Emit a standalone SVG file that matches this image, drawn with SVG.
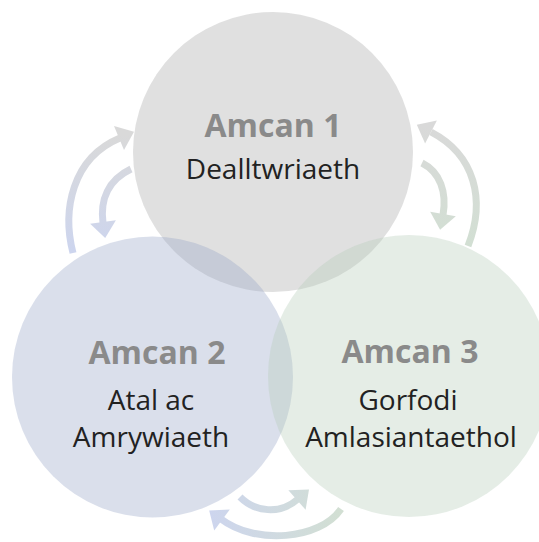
<svg xmlns="http://www.w3.org/2000/svg" width="539" height="542" viewBox="0 0 539 542">
  <style>
    .title { font-family: "Open Sans", "Noto Sans", "Liberation Sans", sans-serif; font-weight: bold; font-size: 32px; fill: #8a8a8a; text-anchor: middle; }
    .body { font-family: "Open Sans", "Noto Sans", "Liberation Sans", sans-serif; font-size: 28px; fill: #222222; text-anchor: middle; }
    .circ { fill-opacity: 0.35; }
    .shaft { fill: none; stroke-width: 7; }
  </style>
  <defs>
    <linearGradient id="gLeft" gradientUnits="userSpaceOnUse" x1="0" y1="135" x2="0" y2="250">
      <stop offset="0" stop-color="#d9d9d9"/>
      <stop offset="1" stop-color="#cdd5ee"/>
    </linearGradient>
    <linearGradient id="gRight" gradientUnits="userSpaceOnUse" x1="0" y1="125" x2="0" y2="245">
      <stop offset="0" stop-color="#d9d9d9"/>
      <stop offset="1" stop-color="#d2dfd3"/>
    </linearGradient>
    <linearGradient id="gBottom" gradientUnits="userSpaceOnUse" x1="210" y1="0" x2="340" y2="0">
      <stop offset="0" stop-color="#cdd5ee"/>
      <stop offset="1" stop-color="#d2dfd3"/>
    </linearGradient>
  </defs>

  <g id="node1">
    <circle class="circ" cx="273" cy="152" r="140" fill="#a6a6a6"/>
    <text class="title" x="273" y="137">Amcan 1</text>
    <text class="body" x="273" y="179">Dealltwriaeth</text>
  </g>
  <g id="node2">
    <circle class="circ" cx="152.5" cy="377" r="140.5" fill="#95a4c6"/>
    <text class="title" x="157" y="364">Amcan 2</text>
    <text class="body" x="151" y="410">Atal ac</text>
    <text class="body" x="151" y="447">Amrywiaeth</text>
  </g>
  <g id="node3">
    <circle class="circ" cx="409" cy="376" r="141" fill="#b5ccb8"/>
    <text class="title" x="410" y="363">Amcan 3</text>
    <text class="body" x="408" y="410">Gorfodi</text>
    <text class="body" x="411" y="447">Amlasiantaethol</text>
  </g>

  <g id="connectors">
    <!-- left pair -->
    <path class="shaft" stroke="url(#gLeft)" d="M 73 253 C 62 210, 72 158, 120 138"/>
    <polygon fill="url(#gLeft)" points="114,126 134,131.8 124,150"/>
    <path class="shaft" stroke="url(#gLeft)" d="M 131 169 C 108 180, 100 200, 103 223"/>
    <polygon fill="url(#gLeft)" points="115.9,220.2 105.2,237.9 90.1,223.8"/>
    <!-- right pair -->
    <path class="shaft" stroke="url(#gRight)" d="M 468 246 C 486 200, 475 155, 431 132"/>
    <polygon fill="url(#gRight)" points="436.9,120.4 416.8,124.7 425.1,143.6"/>
    <path class="shaft" stroke="url(#gRight)" d="M 422 163 C 440 172, 447 192, 443 215"/>
    <polygon fill="url(#gRight)" points="455.8,216.3 440.1,229.7 430.2,211.7"/>
    <!-- bottom pair -->
    <path class="shaft" stroke="url(#gBottom)" d="M 240 497 C 255 512, 280 515, 298 499"/>
    <polygon fill="url(#gBottom)" points="288.4,490.2 309,489.4 305.6,509.8"/>
    <path class="shaft" stroke="url(#gBottom)" d="M 341 509 C 320 540, 255 545, 221 519"/>
    <polygon fill="url(#gBottom)" points="229.8,509.6 209.2,510.4 214.2,530.4"/>
  </g>
</svg>
